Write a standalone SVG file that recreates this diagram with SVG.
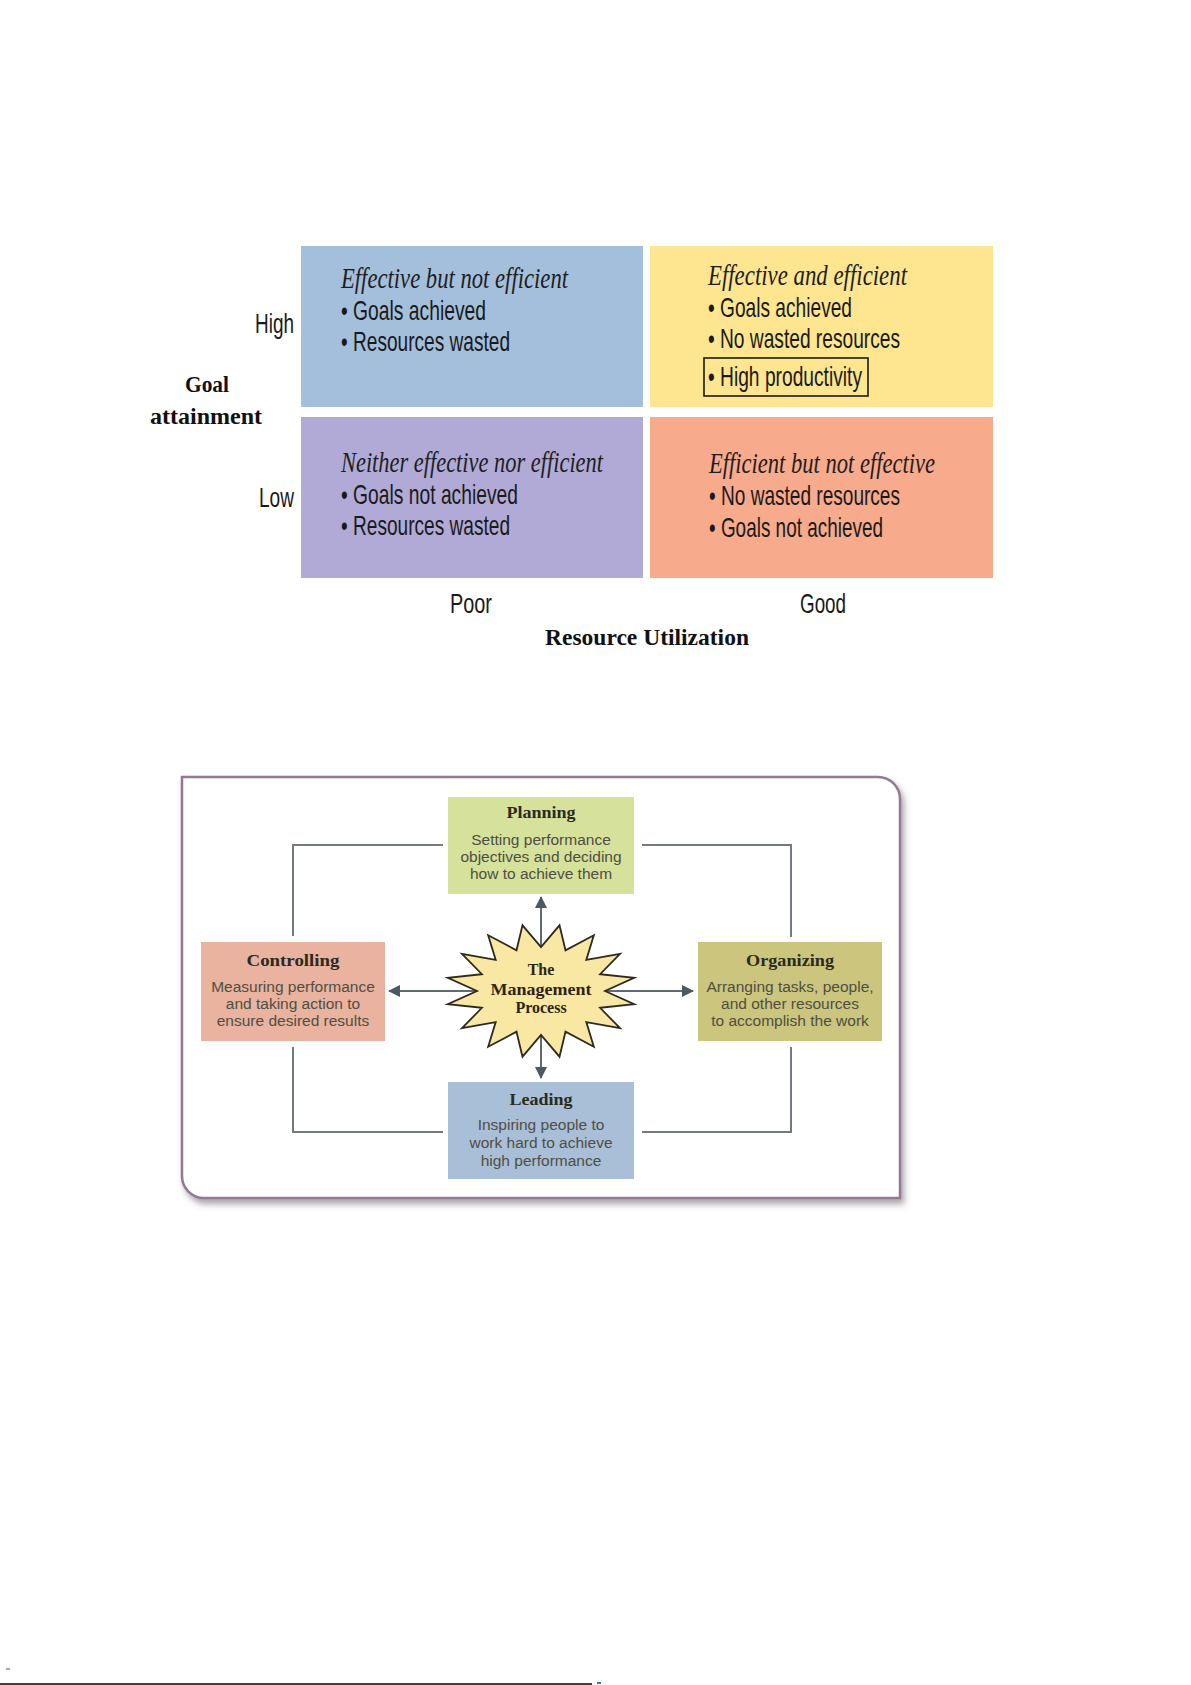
<svg xmlns="http://www.w3.org/2000/svg" width="1191" height="1685" viewBox="0 0 1191 1685">
<style>
.qt{font-family:"Liberation Serif",serif;font-style:italic;font-size:30px;fill:#1e1e1e}
.qb{font-family:"Liberation Sans",Arial,sans-serif;font-size:28px;fill:#1a1a1a}
.ax{font-family:"Liberation Sans",Arial,sans-serif;font-size:28px;fill:#1a1a1a}
.axt{font-family:"Liberation Serif",serif;font-weight:bold;font-size:24px;fill:#111}
.bt{font-family:"Liberation Serif",serif;font-weight:bold;font-size:17px;fill:#2b2a20;text-anchor:middle}
.bb{font-family:"Liberation Sans",Arial,sans-serif;font-size:15.5px;fill:#4f4e42;text-anchor:middle}
.st{font-family:"Liberation Serif",serif;font-weight:bold;font-size:16px;fill:#2e2416;text-anchor:middle}
.con{fill:none;stroke:#737a82;stroke-width:2}
.arr{fill:none;stroke:#5f6a74;stroke-width:2}
</style>
<defs>
<marker id="ah" markerUnits="userSpaceOnUse" markerWidth="12" markerHeight="12" refX="11" refY="6" orient="auto">
<path d="M0,0 L12,6 L0,12 Z" fill="#4c5862"/>
</marker>
<filter id="sh" x="-5%" y="-5%" width="115%" height="115%">
<feDropShadow dx="3" dy="5" stdDeviation="3" flood-color="#5a4a5a" flood-opacity="0.5"/>
</filter>
</defs>
<rect width="1191" height="1685" fill="#ffffff"/>

<!-- Matrix -->
<g id="q-effective-not-efficient">
<rect x="301" y="246" width="342" height="161" fill="#a4bfdc"/>
<text class="qt" x="341" y="288" textLength="227" lengthAdjust="spacingAndGlyphs">Effective but not efficient</text>
<text class="qb" x="341" y="320" textLength="145" lengthAdjust="spacingAndGlyphs">• Goals achieved</text>
<text class="qb" x="341" y="351" textLength="169" lengthAdjust="spacingAndGlyphs">• Resources wasted</text>
</g>
<g id="q-effective-efficient">
<rect x="650" y="246" width="343" height="161" fill="#fde68f"/>
<text class="qt" x="708" y="285" textLength="199" lengthAdjust="spacingAndGlyphs">Effective and efficient</text>
<text class="qb" x="708" y="317" textLength="144" lengthAdjust="spacingAndGlyphs">• Goals achieved</text>
<text class="qb" x="708" y="348" textLength="192" lengthAdjust="spacingAndGlyphs">• No wasted resources</text>
<rect x="704" y="358" width="164" height="38" fill="none" stroke="#1a1a1a" stroke-width="1.6"/>
<text class="qb" x="708" y="386" textLength="154" lengthAdjust="spacingAndGlyphs">• High productivity</text>
</g>
<g id="q-neither">
<rect x="301" y="417" width="342" height="161" fill="#b1aad6"/>
<text class="qt" x="341" y="472" textLength="262" lengthAdjust="spacingAndGlyphs">Neither effective nor efficient</text>
<text class="qb" x="341" y="504" textLength="177" lengthAdjust="spacingAndGlyphs">• Goals not achieved</text>
<text class="qb" x="341" y="535" textLength="169" lengthAdjust="spacingAndGlyphs">• Resources wasted</text>
</g>
<g id="q-efficient-not-effective">
<rect x="650" y="417" width="343" height="161" fill="#f8aa8c"/>
<text class="qt" x="709" y="473" textLength="226" lengthAdjust="spacingAndGlyphs">Efficient but not effective</text>
<text class="qb" x="709" y="505" textLength="191" lengthAdjust="spacingAndGlyphs">• No wasted resources</text>
<text class="qb" x="709" y="537" textLength="174" lengthAdjust="spacingAndGlyphs">• Goals not achieved</text>
</g>
<g id="axes">
<text class="ax" x="255" y="333" textLength="39" lengthAdjust="spacingAndGlyphs">High</text>
<text class="ax" x="259" y="507" textLength="35" lengthAdjust="spacingAndGlyphs">Low</text>
<text class="ax" x="450" y="613" textLength="42" lengthAdjust="spacingAndGlyphs">Poor</text>
<text class="ax" x="800" y="613" textLength="46" lengthAdjust="spacingAndGlyphs">Good</text>
<text class="axt" x="185" y="392" textLength="44" lengthAdjust="spacingAndGlyphs">Goal</text>
<text class="axt" x="150" y="424" textLength="112" lengthAdjust="spacingAndGlyphs">attainment</text>
<text class="axt" x="545" y="645" textLength="204" lengthAdjust="spacingAndGlyphs">Resource Utilization</text>
</g>

<!-- Management process -->
<g id="frame">
<path d="M182,777 H878 A22,22 0 0 1 900,799 V1198 H204 A22,22 0 0 1 182,1176 Z" fill="#ffffff" stroke="#937a92" stroke-width="2.5" filter="url(#sh)"/>
</g>
<g id="connectors">
<path class="con" d="M443,845 H293 V936"/>
<path class="con" d="M642,845 H791 V937"/>
<path class="con" d="M293,1047 V1132 H443"/>
<path class="con" d="M791,1047 V1132 H642"/>
<line class="arr" x1="541" y1="991" x2="541" y2="897" marker-end="url(#ah)"/>
<line class="arr" x1="541" y1="991" x2="541" y2="1078" marker-end="url(#ah)"/>
<line class="arr" x1="541" y1="991" x2="389" y2="991" marker-end="url(#ah)"/>
<line class="arr" x1="541" y1="991" x2="693" y2="991" marker-end="url(#ah)"/>
</g>
<g id="planning">
<rect x="448" y="797" width="186" height="97" fill="#d6e19c"/>
<text class="bt" x="541" y="818" textLength="69" lengthAdjust="spacingAndGlyphs">Planning</text>
<text class="bb" x="541" y="845">Setting performance</text>
<text class="bb" x="541" y="862">objectives and deciding</text>
<text class="bb" x="541" y="879">how to achieve them</text>
</g>
<g id="controlling">
<rect x="201" y="942" width="184" height="99" fill="#e9b3a0"/>
<text class="bt" x="293" y="966" textLength="93" lengthAdjust="spacingAndGlyphs">Controlling</text>
<text class="bb" x="293" y="992">Measuring performance</text>
<text class="bb" x="293" y="1009">and taking action to</text>
<text class="bb" x="293" y="1026">ensure desired results</text>
</g>
<g id="organizing">
<rect x="698" y="942" width="184" height="99" fill="#cbc57e"/>
<text class="bt" x="790" y="966" textLength="88" lengthAdjust="spacingAndGlyphs">Organizing</text>
<text class="bb" x="790" y="992">Arranging tasks, people,</text>
<text class="bb" x="790" y="1009">and other resources</text>
<text class="bb" x="790" y="1026">to accomplish the work</text>
</g>
<g id="leading">
<rect x="448" y="1082" width="186" height="97" fill="#a9bed7"/>
<text class="bt" x="541" y="1105" textLength="63" lengthAdjust="spacingAndGlyphs">Leading</text>
<text class="bb" x="541" y="1130">Inspiring people to</text>
<text class="bb" x="541" y="1148">work hard to achieve</text>
<text class="bb" x="541" y="1166">high performance</text>
</g>
<g id="management-process">
<polygon points="605,991 634.2,1004.1 600.1,1007.8 620,1028.2 586.3,1022.1 593.8,1046.7 565.5,1031.7 559.5,1056.7 541,1035 522.5,1056.7 516.5,1031.7 488.2,1046.7 495.7,1022.1 462,1028.2 481.9,1007.8 447.8,1004.1 477,991 447.8,977.9 481.9,974.2 462,953.8 495.7,959.9 488.2,935.3 516.5,950.3 522.5,925.3 541,947 559.5,925.3 565.5,950.3 593.8,935.3 586.3,959.9 620,953.8 600.1,974.2 634.2,977.9" fill="#f9e8a4" stroke="#2e2a22" stroke-width="1.8" stroke-linejoin="miter"/>
<text class="st" x="541" y="975">The</text>
<text class="st" x="541" y="995" textLength="101" lengthAdjust="spacingAndGlyphs">Management</text>
<text class="st" x="541" y="1013">Process</text>
</g>

<!-- page artifacts -->
<g id="page-marks">
<line x1="0" y1="1684" x2="592" y2="1684" stroke="#000" stroke-width="1.5"/>
<line x1="6" y1="1669" x2="10" y2="1669" stroke="#555" stroke-width="1"/>
<rect x="597" y="1682" width="4" height="2" fill="#2a8a9a"/>
</g>
</svg>
